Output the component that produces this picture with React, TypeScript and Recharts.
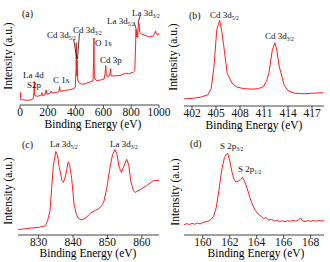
import React from 'react'
import { LineChart, Line, XAxis, YAxis, ReferenceLine } from 'recharts'

// (a) survey spectrum: [binding energy, intensity]
const surveyEnergy = [0, 3, 6, 20, 50, 80, 95, 100, 103, 106, 120, 150, 158, 162, 180, 188, 194, 215, 225, 232, 260, 280, 285, 290, 320, 350, 380, 398, 403, 405, 407.5, 410, 412, 415, 420, 440, 470, 500, 525, 529, 532, 535, 550, 580, 605, 612, 617, 621, 640, 648, 652, 656, 690, 720, 750, 765, 780, 815, 826, 830, 835, 837, 839, 843, 847, 852, 854, 856, 862, 875, 900, 930, 955, 965, 975, 980, 990, 1000]
const surveyCounts = [8, 12, 5, 5, 4.5, 5, 6, 12, 22.6, 9, 8.5, 9, 12, 9, 10, 14.5, 10.5, 11, 13.5, 11.5, 12, 13, 17.7, 13, 14, 14.5, 15.5, 17, 35, 60, 28, 36, 43, 25, 22, 20, 20.5, 22, 23, 40, 64.5, 26, 23.5, 24, 25, 30, 38, 28, 27.5, 31, 35, 28, 28, 28.5, 30, 30.6, 30, 31.6, 33, 50, 73.5, 65, 72, 70, 65, 81, 76, 78, 70, 68, 67, 65.5, 66, 68, 71, 69, 67, 69]

// (b) Cd 3d
const cdEnergy = [401, 402, 403, 404, 404.4, 404.75, 405.1, 405.45, 405.75, 405.95, 406.4, 407, 407.6, 408.5, 409.5, 410.3, 410.9, 411.3, 411.6, 412.04, 412.37, 412.6, 412.9, 413.5, 414, 414.8, 416, 417, 418.4]
const cdCounts = [7, 7.5, 8.5, 11, 17, 39, 75, 84, 72, 60, 32, 22.5, 18.5, 17, 16.5, 17, 19, 24, 32, 55, 62, 55, 39, 21, 15, 12.5, 12, 12.5, 13]

// (c) La 3d
const laEnergy = [824, 826, 828, 830, 832, 832.6, 833.3, 833.8, 834.3, 835, 835.5, 836, 836.8, 837.2, 837.8, 838.6, 839, 839.6, 840.3, 841, 841.5, 842.3, 843, 844, 845, 846.5, 847.5, 848.3, 849, 849.8, 850.7, 851.5, 852.2, 852.8, 853.4, 854.1, 854.8, 855.6, 856.2, 856.8, 857.5, 858, 859.5, 861.4, 863.3, 865]
const laCounts = [5.2, 6, 6.8, 7.4, 9, 13.9, 23.5, 46, 68.7, 81, 77, 65.5, 53, 51, 57, 71, 68, 55, 30, 20, 16.5, 14.8, 15.3, 17.5, 21, 24, 25.5, 28.4, 33, 45, 65, 78, 83, 78, 66, 60.6, 67, 73.5, 68, 52, 43.5, 41.3, 44, 48, 52.6, 53.2]

// (d) S 2p
const sEnergy = [158.6, 158.8, 159, 159.2, 159.4, 159.6, 159.8, 160, 160.2, 160.4, 160.6, 160.8, 161, 161.2, 161.4, 161.6, 161.75, 161.85, 162, 162.15, 162.3, 162.45, 162.6, 162.8, 162.95, 163.1, 163.3, 163.5, 163.7, 163.9, 164.1, 164.3, 164.5, 164.7, 164.9, 165.1, 165.3, 165.5, 165.7, 165.9, 166.1, 166.3, 166.5, 166.7, 166.9, 167.1, 167.25, 167.4, 167.6, 167.8, 168, 168.2, 168.4, 168.6, 168.8, 169]
const sCounts = [10, 11, 10.2, 11.3, 10.5, 11.6, 10.8, 12, 12.8, 13.5, 15, 18, 27, 44, 63, 75, 78.5, 79, 72, 62, 54.5, 51.5, 52, 54, 56, 52, 45, 36, 29, 24, 20.5, 18.5, 16, 16.8, 14.5, 15.2, 13.5, 14.2, 13, 13.8, 12.8, 13.9, 13.2, 14.4, 13.5, 14.5, 16.5, 13.8, 13, 14, 13.2, 14.1, 13.4, 14.2, 13.6, 14]

const surveyTicks = [0, 200, 400, 600, 800, 1000]
const cdTicks = [402, 405, 408, 411, 414, 417]
const laTicks = [830, 840, 850, 860]
const sTicks = [160, 162, 164, 166, 168]

const FONT = '"Liberation Serif", Tinos, "Times New Roman", Times, serif'
const RED = '#ff1f1f'
const FRAME = '#444'

const zip = (xs: number[], ys: number[]) => xs.map((x, i) => ({ x, y: ys[i] }))

interface PanelProps {
  left: number
  top: number
  margin: { top: number; right: number; bottom: number; left: number }
  axisHeight: number
  data: { x: number; y: number }[]
  domain: [number, number]
  ticks: number[]
  yTicks: number[]
  children?: React.ReactNode
}

function Panel({ left, top, margin, axisHeight, data, domain, ticks, yTicks, children }: PanelProps) {
  return (
    <div style={{ position: 'absolute', left, top }}>
      <LineChart width={165} height={131} data={data} margin={margin}>
        <XAxis
          dataKey="x"
          type="number"
          domain={domain}
          ticks={ticks}
          allowDataOverflow
          height={axisHeight}
          stroke={FRAME}
          tickSize={3}
          tickMargin={0}
          tick={{ fontSize: 11.5, fill: '#111', fontFamily: FONT }}
          interval={0}
        />
        <XAxis xAxisId="top" orientation="top" type="number" domain={domain} height={0} tick={false} tickLine={false} stroke={FRAME} />
        <YAxis
          type="number"
          domain={[0, 100]}
          ticks={yTicks}
          width={0}
          tickSize={3}
          stroke={FRAME}
          tickFormatter={() => ''}
        />
        <YAxis yAxisId="right" orientation="right" type="number" domain={[0, 100]} width={0} tick={false} tickLine={false} stroke={FRAME} />
        <Line dataKey="y" type="linear" stroke={RED} strokeWidth={1} dot={false} isAnimationActive={false} />
        {children}
      </LineChart>
    </div>
  )
}

function Note({ x, y, size = 9, children }: { x: number; y: number; size?: number; children: React.ReactNode }) {
  return (
    <div style={{ position: 'absolute', left: x, top: y, fontSize: size, lineHeight: 1, whiteSpace: 'nowrap', color: '#111' }}>
      {children}
    </div>
  )
}

const Sub = ({ t }: { t: string }) => <sub style={{ fontSize: 5.5, verticalAlign: -2 }}>{t}</sub>

function Title({ x, y }: { x: number; y: number }) {
  return (
    <div style={{ position: 'absolute', left: x, top: y, transform: 'translate(-50%, -50%)', fontSize: 11.5, whiteSpace: 'nowrap', lineHeight: 1 }}>
      Binding Energy (eV)
    </div>
  )
}

function YTitle({ x, y }: { x: number; y: number }) {
  return (
    <div style={{ position: 'absolute', left: x, top: y, transform: 'translate(-50%, -50%) rotate(-90deg)', fontSize: 11.5, whiteSpace: 'nowrap', lineHeight: 1 }}>
      Intensity (a.u.)
    </div>
  )
}

export default function App() {
  return (
    <div style={{ position: 'absolute', left: 0, top: 0, width: 330, height: 262, background: '#fff', fontFamily: FONT, overflow: 'hidden' }}>
      <style>{`.recharts-surface{overflow:visible}`}</style>
      <Panel left={0} top={0} margin={{ top: 1, right: 6, bottom: 0, left: 20 }} axisHeight={26}
        data={zip(surveyEnergy, surveyCounts)} domain={[0, 1000]} ticks={surveyTicks} yTicks={[13.5, 32, 51, 69.7, 88]}>
        <ReferenceLine segment={[{ x: 386, y: 63 }, { x: 410, y: 44 }]} stroke="#111" strokeWidth={0.8} ifOverflow="visible" />
        <ReferenceLine segment={[{ x: 428, y: 69 }, { x: 413, y: 44 }]} stroke="#111" strokeWidth={0.8} ifOverflow="visible" />
        <ReferenceLine segment={[{ x: 822, y: 79 }, { x: 834, y: 74 }]} stroke="#111" strokeWidth={0.8} ifOverflow="visible" />
        <ReferenceLine segment={[{ x: 865, y: 86 }, { x: 853, y: 81 }]} stroke="#111" strokeWidth={0.8} ifOverflow="visible" />
      </Panel>
      <Panel left={165} top={0} margin={{ top: 4, right: 6, bottom: 0, left: 19 }} axisHeight={25}
        data={zip(cdEnergy, cdCounts)} domain={[401, 418.5]} ticks={cdTicks} yTicks={[17, 36, 55, 73, 92]} />
      <Panel left={0} top={131} margin={{ top: 1, right: 6, bottom: 0, left: 18 }} axisHeight={27}
        data={zip(laEnergy, laCounts)} domain={[824, 865]} ticks={laTicks} yTicks={[14.5, 30, 44.5, 59, 73.5, 88.7]} />
      <Panel left={165} top={131} margin={{ top: 1, right: 6, bottom: 0, left: 19 }} axisHeight={27}
        data={zip(sEnergy, sCounts)} domain={[158.6, 169]} ticks={sTicks} yTicks={[14, 32.5, 51, 69.5, 88]} />

      <Note x={22} y={9} size={10}>(a)</Note>
      <Note x={23} y={71}>La 4d</Note>
      <Note x={27} y={81}>S2p</Note>
      <Note x={53} y={76}>C 1s</Note>
      <Note x={47} y={31}>Cd 3d<Sub t="5/2" /></Note>
      <Note x={73} y={26}>Cd 3d<Sub t="3/2" /></Note>
      <Note x={95} y={39}>O 1s</Note>
      <Note x={100} y={56}>Cd 3p</Note>
      <Note x={107} y={17}>La 3d<Sub t="5/2" /></Note>
      <Note x={132} y={9}>La 3d<Sub t="3/2" /></Note>

      <Note x={189} y={11} size={10}>(b)</Note>
      <Note x={210} y={11}>Cd 3d<Sub t="5/2" /></Note>
      <Note x={265} y={32}>Cd 3d<Sub t="3/2" /></Note>

      <Note x={22} y={140} size={10}>(c)</Note>
      <Note x={50} y={140}>La 3d<Sub t="5/2" /></Note>
      <Note x={110} y={140}>La 3d<Sub t="3/2" /></Note>

      <Note x={190} y={139} size={10}>(d)</Note>
      <Note x={220} y={142}>S 2p<Sub t="3/2" /></Note>
      <Note x={238} y={165}>S 2p<Sub t="1/2" /></Note>

      <Title x={93} y={124.5} />
      <Title x={254} y={125.5} />
      <Title x={88} y={254} />
      <Title x={256} y={254} />
      <YTitle x={9} y={56} />
      <YTitle x={174} y={57} />
      <YTitle x={9} y={191} />
      <YTitle x={176} y={192} />
    </div>
  )
}
